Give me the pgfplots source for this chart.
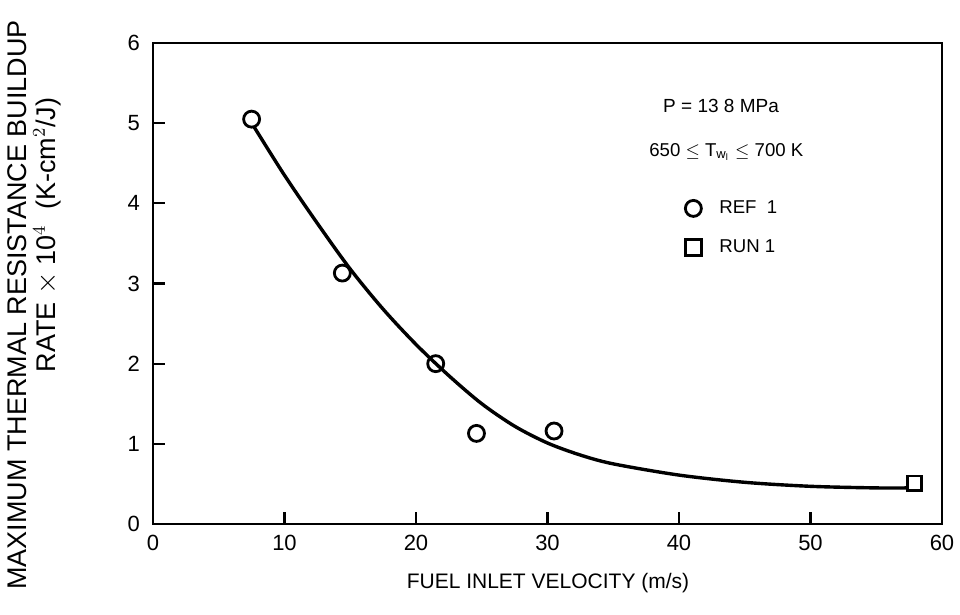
\documentclass[border=0pt]{standalone}
\usepackage{fontspec}
\setmainfont{Liberation Sans}
\usepackage{pgfplots}
\pgfplotsset{compat=1.18}
\begin{document}
\begin{tikzpicture}[x=1pt,y=1pt]
\path[use as bounding box] (0,0) rectangle (480,307.5);
\begin{axis}[
  at={(76.5pt,45.5pt)}, anchor=south west,
  width=394.5pt, height=240.5pt, scale only axis,
  xmin=0, xmax=60, ymin=0, ymax=6,
  xtick={0,10,20,30,40,50,60}, ytick={0,1,2,3,4,5,6},
  tick align=inside, xtick pos=left, ytick pos=left,
  major tick length=6pt,
  axis line style={line width=1.2pt},
  every tick/.style={line width=1.1pt, black},
  tick label style={font=\fontsize{11}{12}\selectfont},
  /pgf/number format/assume math mode=true,
  xticklabel style={yshift=-2pt},
  yticklabel style={xshift=-3pt},
  legend style={draw=none, fill=none, at={(axis cs:40.0,4.14)}, anchor=north west,
    font=\fontsize{9.3}{11}\selectfont, row sep=7.5pt,
    legend cell align=left},
  legend image post style={mark size=4pt, mark options={fill=white, line width=1.4pt}},
]
\addplot[smooth, line width=1.7pt, forget plot] coordinates {
 (7.7,4.95) (10,4.35) (12.5,3.75) (15,3.18) (17.5,2.68) (20,2.24) (22.5,1.85)
 (25,1.5) (27.5,1.22) (30,1.01) (32.5,0.86) (35,0.75) (40,0.61) (45,0.52)
 (50,0.47) (55,0.45) (57.4,0.45)
};
\addplot[only marks, mark=o, mark size=4pt, mark options={line width=1.4pt, fill=white}]
 coordinates {(7.5,5.05) (14.4,3.13) (21.5,2.0) (24.6,1.13) (30.5,1.16)};
\addlegendentry{\hspace*{7pt}REF\ \ 1}
\addplot[only marks, mark=square, mark size=3.6pt, mark options={line width=1.4pt, fill=white}]
 coordinates {(57.9,0.51)};
\addlegendentry{\hspace*{7pt}RUN 1}
\node[font=\fontsize{9.5}{11}\selectfont] at (axis cs:43.2,5.21) {P = 13 8 MPa};
\node[font=\fontsize{9.3}{11}\selectfont] at (axis cs:43.6,4.64) {650 $\leq$ T$_{\mathrm{w}_{\mathrm{l}}}$ $\leq$ 700 K};
\end{axis}
\node[font=\fontsize{10.5}{12}\selectfont] at (274,16) {FUEL INLET VELOCITY (m/s)};
\node[font=\fontsize{13.5}{15}\selectfont, rotate=90] at (8.5,155) {MAXIMUM THERMAL RESISTANCE BUILDUP};
\node[font=\fontsize{13.5}{15}\selectfont, rotate=90] at (23.5,190) {RATE $\times$ 10$^4$\ \ (K-cm$^2$/J)};
\end{tikzpicture}
\end{document}
